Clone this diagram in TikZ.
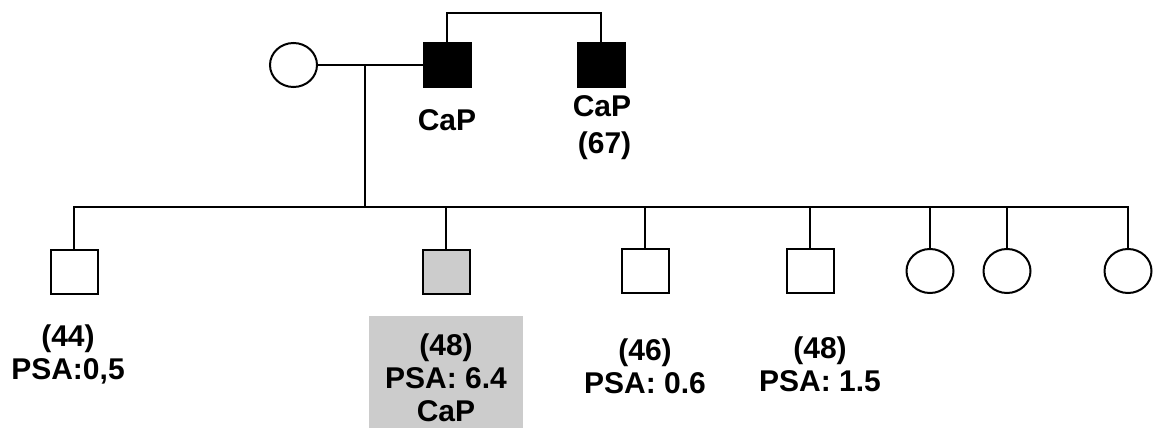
\documentclass[tikz,border=0pt]{standalone}
\usepackage{fontspec}
\setmainfont{Liberation Sans}
\usetikzlibrary{shapes.geometric}
\definecolor{cgray}{HTML}{CCCCCC}
\begin{document}
\begin{tikzpicture}[x=1pt,y=-1pt,line width=2pt,
  person/.style={draw=black,minimum width=47pt,minimum height=44pt,inner sep=0pt,outer sep=0pt},
  male/.style={person,rectangle},
  female/.style={person,ellipse},
  lbl/.style={font=\fontsize{30}{33}\selectfont\bfseries,align=center,inner sep=0pt}]
\useasboundingbox (0,0) rectangle (1156,428);
% parents generation
\node[female] (mother) at (293.5,65) {};
\node[male,fill=black] (father) at (447,65) {};
\node[male,fill=black] (uncle) at (601,65) {};
\coordinate (sibtop) at (524,13);
\draw (father.north) |- (sibtop) -| (uncle.north);
\draw (mother.east) -- (father.west);
\coordinate (mar) at (365,65);
\coordinate (sib) at (365,207);
\draw (mar) -- (sib);
\node[lbl] (lfather) at (447,120) {CaP};
\node[lbl] (luncle) at (602,128) {CaP\\[4pt]\,(67)};
% children
\node[male] (c1) at (74,272) {};
\node[male,fill=cgray] (c2) at (446,272) {};
\node[male] (c3) at (645,271) {};
\node[male] (c4) at (810,271) {};
\node[female] (c5) at (930,271) {};
\node[female] (c6) at (1007,271) {};
\node[female] (c7) at (1128,271) {};
\coordinate (sr) at (1128,207);
\draw (c1.north) |- (sr) -- (c7.north);
\foreach \c in {c2,c3,c4,c5,c6} \draw (\c.north) -- (\c.north |- sib);
% labels
\node[fill=cgray,minimum width=154pt,minimum height=112pt,inner sep=0pt] (gbox) at (446,372) {};
\node[lbl] (l1) at (68,354) {(44)\\PSA:0,5};
\node[lbl] (l2) at (446,378) {(48)\\PSA: 6.4\\CaP};
\node[lbl] (l3) at (645,366) {(46)\\PSA: 0.6};
\node[lbl] (l4) at (820,364) {(48)\\PSA: 1.5};
\end{tikzpicture}
\end{document}
